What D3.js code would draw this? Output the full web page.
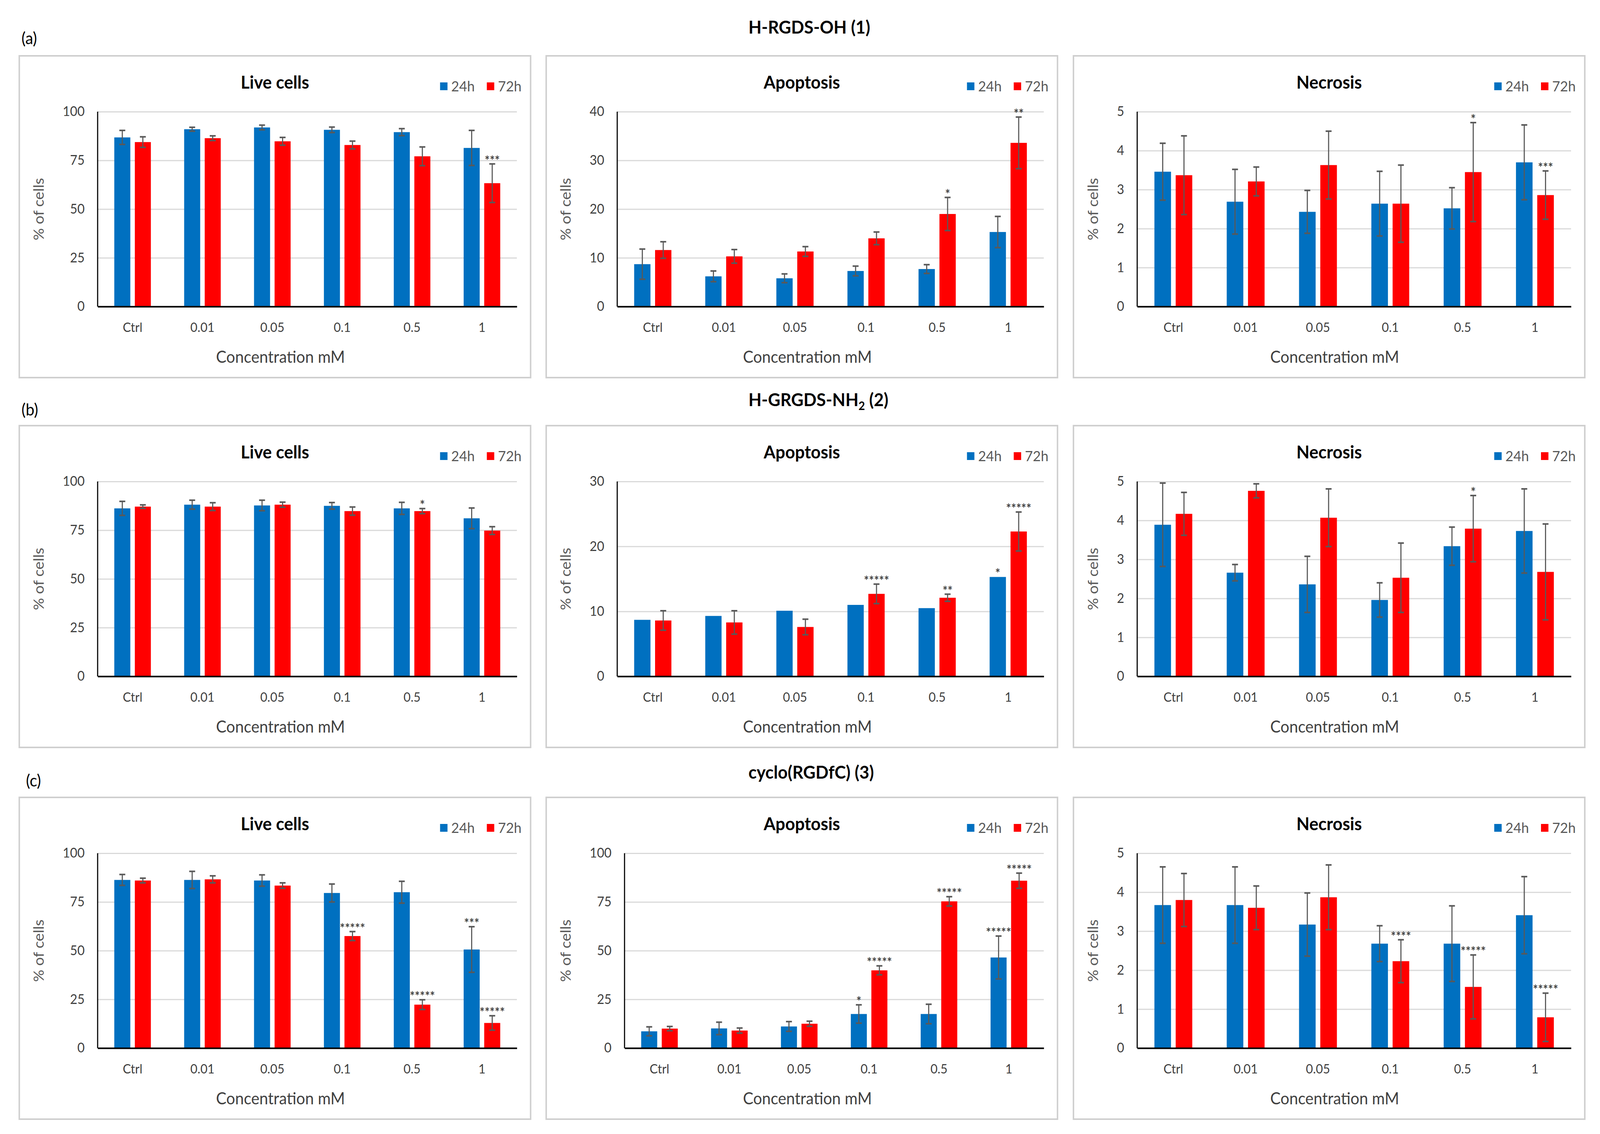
<!DOCTYPE html>
<html>
<head>
<meta charset="utf-8">
<script src="https://cdn.jsdelivr.net/npm/d3@7"></script>
<style>
  html, body { margin: 0; padding: 0; width: 100%; height: 100%; overflow: hidden; background: #fff; }
  #chart { width: 100vw; height: 100vh; }
  svg { display: block; }
  svg text { font-family: Lato, "Liberation Sans", sans-serif; }
</style>
</head>
<body>
<div id="chart"></div>
<script>
// categories and series
var categories = ["Ctrl", "0.01", "0.05", "0.1", "0.5", "1"];
var series = ["24h", "72h"];
var seriesColors = ["#0070C0", "#FF0000"];

// (a) H-RGDS-OH (1)
var liveA24 = [86.8, 91.0, 91.9, 90.7, 89.5, 81.4];
var liveA24Err = [3.6, 1.0, 1.2, 1.4, 1.8, 9.0];
var liveA72 = [84.4, 86.4, 84.8, 82.9, 77.1, 63.3];
var liveA72Err = [2.7, 1.2, 2.0, 2.0, 4.8, 9.9];
var liveA24Sig = ["", "", "", "", "", ""];
var liveA72Sig = ["", "", "", "", "", "***"];

var apopA24 = [8.7, 6.2, 5.8, 7.3, 7.7, 15.3];
var apopA24Err = [3.1, 1.1, 0.9, 1.0, 0.9, 3.2];
var apopA72 = [11.6, 10.3, 11.3, 14.0, 19.0, 33.6];
var apopA72Err = [1.7, 1.4, 1.0, 1.3, 3.4, 5.3];
var apopA24Sig = ["", "", "", "", "", ""];
var apopA72Sig = ["", "", "", "", "*", "**"];

var necA24 = [3.46, 2.69, 2.43, 2.64, 2.52, 3.70];
var necA24Err = [0.73, 0.83, 0.55, 0.83, 0.53, 0.96];
var necA72 = [3.37, 3.21, 3.63, 2.64, 3.45, 2.86];
var necA72Err = [1.01, 0.37, 0.87, 0.99, 1.27, 0.62];
var necA24Sig = ["", "", "", "", "", ""];
var necA72Sig = ["", "", "", "", "*", "***"];

// (b) H-GRGDS-NH2 (2)
var liveB24 = [86.2, 88.1, 87.7, 87.5, 86.2, 81.1];
var liveB24Err = [3.6, 2.3, 2.7, 1.7, 3.1, 5.3];
var liveB72 = [87.1, 87.1, 88.1, 84.8, 84.8, 74.8];
var liveB72Err = [0.9, 2.0, 1.3, 2.1, 1.3, 2.0];
var liveB24Sig = ["", "", "", "", "", ""];
var liveB72Sig = ["", "", "", "", "*", ""];

var apopB24 = [8.7, 9.3, 10.1, 11.0, 10.5, 15.3];
var apopB24Err = [0, 0, 0, 0, 0, 0];
var apopB72 = [8.6, 8.3, 7.6, 12.7, 12.1, 22.3];
var apopB72Err = [1.5, 1.8, 1.2, 1.5, 0.55, 3.0];
var apopB24Sig = ["", "", "", "", "", "*"];
var apopB72Sig = ["", "", "", "*****", "**", "*****"];

var necB24 = [3.89, 2.66, 2.36, 1.96, 3.34, 3.73];
var necB24Err = [1.07, 0.21, 0.72, 0.44, 0.49, 1.08];
var necB72 = [4.17, 4.76, 4.07, 2.53, 3.79, 2.68];
var necB72Err = [0.55, 0.18, 0.74, 0.89, 0.85, 1.23];
var necB24Sig = ["", "", "", "", "", ""];
var necB72Sig = ["", "", "", "", "*", ""];

// (c) cyclo(RGDfC) (3)
var liveC24 = [86.3, 86.3, 86.0, 79.6, 80.0, 50.6];
var liveC24Err = [2.8, 4.4, 2.9, 4.6, 5.6, 11.7];
var liveC72 = [86.0, 86.6, 83.4, 57.5, 22.3, 12.9];
var liveC72Err = [1.2, 1.8, 1.4, 2.3, 2.5, 3.7];
var liveC24Sig = ["", "", "", "", "", "***"];
var liveC72Sig = ["", "", "", "*****", "*****", "*****"];

var apopC24 = [8.6, 10.1, 11.1, 17.5, 17.5, 46.5];
var apopC24Err = [2.3, 3.2, 2.5, 4.7, 5.0, 11.0];
var apopC72 = [10.0, 9.0, 12.5, 39.9, 75.3, 85.9];
var apopC72Err = [1.1, 1.3, 1.3, 2.3, 2.4, 3.9];
var apopC24Sig = ["", "", "", "*", "", "*****"];
var apopC72Sig = ["", "", "", "*****", "*****", "*****"];

var necC24 = [3.67, 3.67, 3.17, 2.68, 2.68, 3.41];
var necC24Err = [0.98, 0.98, 0.81, 0.46, 0.97, 0.99];
var necC72 = [3.80, 3.60, 3.87, 2.23, 1.57, 0.79];
var necC72Err = [0.68, 0.56, 0.83, 0.55, 0.82, 0.62];
var necC24Sig = ["", "", "", "", "", ""];
var necC72Sig = ["", "", "", "****", "*****", "*****"];

// axis tick values
var liveTicks = [0, 25, 50, 75, 100];
var apopATicks = [0, 10, 20, 30, 40];
var apopBTicks = [0, 10, 20, 30];
var apopCTicks = [0, 25, 50, 75, 100];
var necTicks = [0, 1, 2, 3, 4, 5];

var rowLetters = ["(a)", "(b)", "(c)"];
var panelTitles = ["Live cells", "Apoptosis", "Necrosis"];

// panel table built from the arrays above
var panels = [
  [liveA24, liveA24Err, liveA72, liveA72Err, liveA24Sig, liveA72Sig, liveTicks],
  [apopA24, apopA24Err, apopA72, apopA72Err, apopA24Sig, apopA72Sig, apopATicks],
  [necA24, necA24Err, necA72, necA72Err, necA24Sig, necA72Sig, necTicks],
  [liveB24, liveB24Err, liveB72, liveB72Err, liveB24Sig, liveB72Sig, liveTicks],
  [apopB24, apopB24Err, apopB72, apopB72Err, apopB24Sig, apopB72Sig, apopBTicks],
  [necB24, necB24Err, necB72, necB72Err, necB24Sig, necB72Sig, necTicks],
  [liveC24, liveC24Err, liveC72, liveC72Err, liveC24Sig, liveC72Sig, liveTicks],
  [apopC24, apopC24Err, apopC72, apopC72Err, apopC24Sig, apopC72Sig, apopCTicks],
  [necC24, necC24Err, necC72, necC72Err, necC24Sig, necC72Sig, necTicks]
];

// layout
var svgWidth = 4312, svgHeight = 2904;
var colX = [52, 1472, 2893];
var rowY = [143, 1090, 2042];
var panelW = 1378, panelH = 824;
var plotTop = 143, plotBottom = 642, plotRight = 1341;

// the svg scales itself to whatever window it is shown in
var svg = d3.select("#chart")
  .append("svg")
  .attr("viewBox", `0 0 ${svgWidth} ${svgHeight}`)
  .attr("preserveAspectRatio", "none")
  .attr("width", "100%")
  .attr("height", "100%");

svg.append("rect")
  .attr("width", svgWidth)
  .attr("height", svgHeight)
  .attr("fill", "#fff");

// row headers
var letterX = [58, 58, 70];
var letterY = [113, 1064, 2014];
var headY = [86, 1040, 1994];

rowLetters.forEach(function(l, i) {
  svg.append("text")
    .attr("x", letterX[i])
    .attr("y", letterY[i])
    .attr("font-size", 42)
    .attr("fill", "#000")
    .text(l);
});

svg.append("text").attr("x", 2017).attr("y", headY[0])
  .attr("font-size", 46).attr("font-weight", "bold").text("H-RGDS-OH (1)");

var h2 = svg.append("text").attr("x", 2017).attr("y", headY[1])
  .attr("font-size", 46).attr("font-weight", "bold");
h2.append("tspan").text("H-GRGDS-NH");
h2.append("tspan").attr("font-size", 30).attr("dy", 10).text("2");
h2.append("tspan").attr("dy", -10).text(" (2)");

svg.append("text").attr("x", 2017).attr("y", headY[2])
  .attr("font-size", 46).attr("font-weight", "bold").text("cyclo(RGDfC) (3)");

function measure(txt, size) {
  var t = svg.append("text").attr("font-size", size).text(txt);
  var w = t.node().getComputedTextLength();
  t.remove();
  return w;
}

panels.forEach(function(p, idx) {
  var row = Math.floor(idx / 3), col = idx % 3;
  var v24 = p[0], e24 = p[1], v72 = p[2], e72 = p[3], s24 = p[4], s72 = p[5], ticks = p[6];

  var g = svg.append("g")
    .attr("transform", `translate(${colX[col]}, ${rowY[row]})`);

  // panel frame
  g.append("rect")
    .attr("width", panelW)
    .attr("height", panelH)
    .attr("fill", "#fff")
    .attr("stroke", "#cfcfcf")
    .attr("stroke-width", 4);

  // title
  g.append("text")
    .attr("x", panelW / 2)
    .attr("y", 84)
    .attr("text-anchor", "middle")
    .attr("font-size", 46)
    .attr("font-weight", "bold")
    .attr("fill", "#000")
    .text(panelTitles[col]);

  // legend
  var legX = [1134, 1260];
  series.forEach(function(s, i) {
    g.append("rect")
      .attr("x", legX[i])
      .attr("y", 68)
      .attr("width", 20)
      .attr("height", 20)
      .attr("fill", seriesColors[i]);
    g.append("text")
      .attr("x", legX[i] + 30)
      .attr("y", 91)
      .attr("font-size", 37)
      .attr("fill", "#595959")
      .text(s);
  });

  var maxW = d3.max(ticks, function(t) { return measure(String(t), 34); });
  var axisX = 117 + maxW + 35;

  var yMax = d3.max(ticks);
  var y = d3.scaleLinear().domain([0, yMax]).range([plotBottom, plotTop]);
  var x = d3.scaleBand().domain(categories).range([axisX, plotRight]);
  var xs = d3.scaleBand().domain(series).range([0, x.bandwidth()])
    .paddingInner(0.22).paddingOuter(0.81);

  // gridlines
  g.append("g")
    .attr("transform", `translate(${axisX}, 0)`)
    .call(d3.axisLeft(y).tickValues(ticks).tickSize(-(plotRight - axisX)).tickFormat(""))
    .call(function(a) {
      a.select(".domain").remove();
      a.selectAll("line").attr("stroke", "#d9d9d9").attr("stroke-width", 3);
    });

  // y tick labels
  g.append("g")
    .attr("transform", `translate(${axisX}, 0)`)
    .call(d3.axisLeft(y).tickValues(ticks).tickSize(0).tickPadding(35).tickFormat(d => String(d)))
    .call(function(a) {
      a.select(".domain").remove();
      a.selectAll("text")
        .attr("font-size", 34)
        .attr("font-family", "Lato, sans-serif")
        .attr("fill", "#404040");
    });

  // bars
  var bars = [];
  categories.forEach(function(c, i) {
    bars.push({ cat: c, s: "24h", v: v24[i], e: e24[i], sig: s24[i], color: seriesColors[0] });
    bars.push({ cat: c, s: "72h", v: v72[i], e: e72[i], sig: s72[i], color: seriesColors[1] });
  });

  g.selectAll(".bar")
    .data(bars)
    .enter()
    .append("rect")
    .attr("class", "bar")
    .attr("x", d => x(d.cat) + xs(d.s))
    .attr("y", d => y(d.v))
    .attr("width", xs.bandwidth())
    .attr("height", d => plotBottom - y(d.v))
    .attr("fill", d => d.color);

  // error bars
  var cap = 8;
  bars.filter(d => d.e > 0).forEach(function(d) {
    var cx = x(d.cat) + xs(d.s) + xs.bandwidth() / 2;
    var top = y(d.v + d.e), bot = y(d.v - d.e);
    g.append("line").attr("x1", cx).attr("x2", cx).attr("y1", top).attr("y2", bot)
      .attr("stroke", "#595959").attr("stroke-width", 3);
    g.append("line").attr("x1", cx - cap).attr("x2", cx + cap).attr("y1", top).attr("y2", top)
      .attr("stroke", "#595959").attr("stroke-width", 4);
    g.append("line").attr("x1", cx - cap).attr("x2", cx + cap).attr("y1", bot).attr("y2", bot)
      .attr("stroke", "#595959").attr("stroke-width", 4);
  });

  // significance marks
  g.selectAll(".sig")
    .data(bars.filter(d => d.sig !== ""))
    .enter()
    .append("text")
    .attr("class", "sig")
    .attr("x", d => x(d.cat) + xs(d.s) + xs.bandwidth() / 2)
    .attr("y", d => y(d.v + d.e) + 3)
    .attr("text-anchor", "middle")
    .attr("font-size", 32)
    .attr("font-weight", "bold")
    .attr("fill", "#404040")
    .text(d => d.sig);

  // y axis line
  g.append("line")
    .attr("x1", axisX).attr("x2", axisX)
    .attr("y1", plotTop).attr("y2", plotBottom)
    .attr("stroke", "#000").attr("stroke-width", 3);

  // x axis
  g.append("g")
    .attr("transform", `translate(0, ${plotBottom})`)
    .call(d3.axisBottom(x).tickSize(0).tickPadding(42))
    .call(function(a) {
      a.select(".domain").attr("stroke", "#000").attr("stroke-width", 4);
      a.selectAll("text")
        .attr("font-size", 33)
        .attr("font-family", "Lato, sans-serif")
        .attr("fill", "#404040");
    });

  // axis titles
  g.append("text")
    .attr("x", panelW / 2 + 15)
    .attr("y", 786)
    .attr("text-anchor", "middle")
    .attr("font-size", 42)
    .attr("fill", "#404040")
    .text("Concentration mM");

  g.append("text")
    .attr("transform", `translate(66, ${(plotTop + plotBottom) / 2}) rotate(-90)`)
    .attr("text-anchor", "middle")
    .attr("font-family", "'Open Sans', sans-serif")
    .attr("font-size", 39)
    .attr("fill", "#595959")
    .text("% of cells");
});
</script>
</body>
</html>
